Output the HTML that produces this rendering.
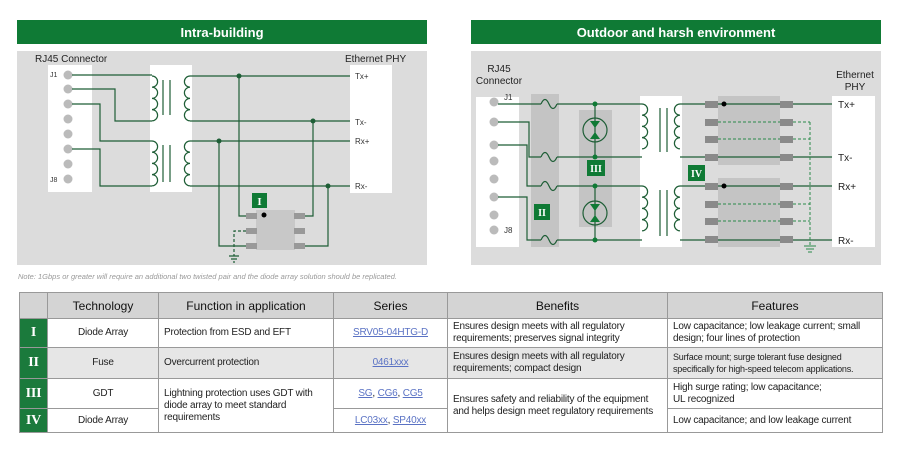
<!DOCTYPE html>
<html><head><meta charset="utf-8"><style>
body{margin:0;background:#fff;width:902px;height:454px;overflow:hidden;font-family:"Liberation Sans",sans-serif}
svg{position:absolute;left:0;top:0}
table{position:absolute;left:19px;top:292px;width:863px;border-collapse:collapse;font-size:10px;color:#222;table-layout:fixed;letter-spacing:-0.2px}
td,th{border:1px solid #999;padding:0 5px;line-height:12px;overflow:hidden}
th{background:#d4d4d4;font-weight:normal;font-size:12px;height:25px;color:#111;letter-spacing:0}
td.n{background:#1b7a3c;color:#fff;font-family:"Liberation Serif",serif;font-weight:bold;font-size:14px;text-align:center;padding:0}
td.c{text-align:center}
a{color:#5a72c4;text-decoration:underline}
.g td{background:#e6e6e6}
.g td.n{background:#1b7a3c}
</style></head><body>
<svg width="902" height="290" viewBox="0 0 902 290" font-family="Liberation Sans, sans-serif">
<defs>
<g id="coilR"><path d="M0 0 a5.6 5.6 0 0 1 0 11.2 a5.6 5.6 0 0 1 0 11.2 a5.6 5.6 0 0 1 0 11.2 a5.6 5.6 0 0 1 0 11.2" fill="none" stroke="#1e5e36" stroke-width="1.2"/></g>
<g id="coilL"><path d="M0 0 a5.6 5.6 0 0 0 0 11.2 a5.6 5.6 0 0 0 0 11.2 a5.6 5.6 0 0 0 0 11.2 a5.6 5.6 0 0 0 0 11.2" fill="none" stroke="#1e5e36" stroke-width="1.2"/></g>
<g id="fuse"><path d="M0 0 q4 -9 8 0 q4 9 8 0" fill="none" stroke="#1e5e36" stroke-width="1.2"/></g>
</defs>
<rect x="17" y="20" width="410" height="24" fill="#0f7a35"/>
<text x="222" y="37" fill="#fff" font-size="13" font-weight="bold" text-anchor="middle">Intra-building</text>
<rect x="17" y="51" width="410" height="214" fill="#dcdcdc"/>
<text x="35" y="62" font-size="10" fill="#222">RJ45 Connector</text>
<text x="345" y="62" font-size="10" fill="#222">Ethernet PHY</text>
<rect x="48" y="65" width="44" height="127" fill="#fff"/>
<rect x="150" y="65" width="42" height="127" fill="#fff"/>
<rect x="350" y="65" width="42" height="128" fill="#fff"/>
<g fill="#bbb"><circle cx="68" cy="75" r="4.5"/><circle cx="68" cy="89" r="4.5"/><circle cx="68" cy="104" r="4.5"/><circle cx="68" cy="119" r="4.5"/><circle cx="68" cy="134" r="4.5"/><circle cx="68" cy="149" r="4.5"/><circle cx="68" cy="164" r="4.5"/><circle cx="68" cy="179" r="4.5"/></g>
<text x="50" y="77" font-size="7" fill="#333">J1</text><text x="50" y="182" font-size="7" fill="#333">J8</text>
<g stroke="#1e5e36" stroke-width="1.2" fill="none">
<path d="M72 75 H152"/><path d="M72 89 H115 V121 H152"/><path d="M72 104 H100 V141 H152"/><path d="M72 149 H100 V186 H152"/>
<path d="M190 76 H350"/><path d="M190 121 H350"/><path d="M190 141 H350"/><path d="M190 186 H350"/>
<path d="M163 80 V115 M170 80 V115 M163 145 V182 M170 145 V182"/>
<path d="M239 76 V216 H256"/><path d="M313 121 V216 H295"/><path d="M219 141 V246 H256"/><path d="M328 186 V246 H295"/>
<path d="M246 231 H234 V256" stroke-dasharray="3 2"/>
<path d="M229 256 H239 M231 259 H237 M233 262 H235"/>
</g>
<use href="#coilR" x="152" y="76"/><use href="#coilL" x="190" y="76"/>
<use href="#coilR" x="152" y="141"/><use href="#coilL" x="190" y="141"/>
<g fill="#1e5e36"><circle cx="239" cy="76" r="2.5"/><circle cx="313" cy="121" r="2.5"/><circle cx="219" cy="141" r="2.5"/><circle cx="328" cy="186" r="2.5"/></g>
<g font-size="8" fill="#333"><text x="355" y="79">Tx+</text><text x="355" y="125">Tx-</text><text x="355" y="144">Rx+</text><text x="355" y="189">Rx-</text></g>
<rect x="256" y="210" width="39" height="40" fill="#c8c8c8"/>
<g fill="#999"><rect x="246" y="213" width="11" height="6"/><rect x="246" y="228" width="11" height="6"/><rect x="246" y="243" width="11" height="6"/><rect x="294" y="213" width="11" height="6"/><rect x="294" y="228" width="11" height="6"/><rect x="294" y="243" width="11" height="6"/></g>
<circle cx="264" cy="215" r="2.5" fill="#000"/>
<rect x="252" y="193" width="15" height="15" fill="#0f7a35"/><text x="259.5" y="205" fill="#fff" font-size="11" font-family="Liberation Serif, serif" font-weight="bold" text-anchor="middle">I</text>
<rect x="471" y="20" width="410" height="24" fill="#0f7a35"/>
<text x="676" y="37" fill="#fff" font-size="13" font-weight="bold" text-anchor="middle">Outdoor and harsh environment</text>
<rect x="471" y="51" width="410" height="214" fill="#dcdcdc"/>
<text x="499" y="72" font-size="10" fill="#222" text-anchor="middle">RJ45</text><text x="499" y="84" font-size="10" fill="#222" text-anchor="middle">Connector</text>
<text x="855" y="78" font-size="10" fill="#222" text-anchor="middle">Ethernet</text><text x="855" y="90" font-size="10" fill="#222" text-anchor="middle">PHY</text>
<rect x="476" y="97" width="43" height="150" fill="#fff"/>
<rect x="531" y="94" width="28" height="153" fill="#c4c4c4"/>
<rect x="579" y="110" width="33" height="117" fill="#c4c4c4"/>
<rect x="640" y="96" width="42" height="151" fill="#fff"/>
<rect x="832" y="96" width="43" height="151" fill="#fff"/>
<rect x="718" y="96" width="62" height="69" fill="#c4c4c4"/>
<rect x="718" y="178" width="62" height="69" fill="#c4c4c4"/>
<g fill="#bbb"><circle cx="494" cy="102" r="4.5"/><circle cx="494" cy="122" r="4.5"/><circle cx="494" cy="145" r="4.5"/><circle cx="494" cy="161" r="4.5"/><circle cx="494" cy="179" r="4.5"/><circle cx="494" cy="197" r="4.5"/><circle cx="494" cy="215" r="4.5"/><circle cx="494" cy="230" r="4.5"/></g>
<text x="504" y="100" font-size="8" fill="#333">J1</text><text x="504" y="233" font-size="8" fill="#333">J8</text>
<g stroke="#1e5e36" stroke-width="1.2" fill="none">
<path d="M498 104 H541 M557 104 H642"/>
<path d="M498 122 H529 V157 H541 M557 157 H642"/>
<path d="M498 145 H527 V186 H541 M557 186 H642"/>
<path d="M498 197 H527 V240 H541 M557 240 H642"/>
<path d="M595 104 V157 M595 186 V240"/>
<circle cx="595" cy="130" r="12"/><circle cx="595" cy="213" r="12"/>
<path d="M660 108 V152 M667 108 V152 M660 190 V236 M667 190 V236"/>
<path d="M680 104 H832 M680 157 H832 M680 186 H832 M680 240 H832"/>
</g>
<use href="#fuse" x="541" y="104"/><use href="#fuse" x="541" y="157"/><use href="#fuse" x="541" y="186"/><use href="#fuse" x="541" y="240"/>
<use href="#coilR" x="642" y="104"/><use href="#coilL" x="680" y="104"/>
<use href="#coilR" x="642" y="186"/><use href="#coilL" x="680" y="186"/>
<g fill="#0f7a35"><path d="M590 121 L600 121 L595 128Z"/><path d="M590 139 L600 139 L595 132Z"/><path d="M590 204 L600 204 L595 211Z"/><path d="M590 222 L600 222 L595 215Z"/>
<circle cx="595" cy="104" r="2.5"/><circle cx="595" cy="157" r="2.5"/><circle cx="595" cy="186" r="2.5"/><circle cx="595" cy="240" r="2.5"/></g>
<g stroke="#2a8a4a" stroke-width="1" fill="none" stroke-dasharray="3 2">
<path d="M718 122 H810 M718 139 H810 M718 204 H810 M718 221 H810 M810 122 V245"/>
</g>
<path d="M804 246 H816 M806 249 H814 M808 252 H812" stroke="#2a8a4a" stroke-width="1"/>
<g fill="#8a8a8a">
<rect x="705" y="101" width="13" height="7"/><rect x="705" y="119" width="13" height="7"/><rect x="705" y="136" width="13" height="7"/><rect x="705" y="154" width="13" height="7"/>
<rect x="780" y="101" width="13" height="7"/><rect x="780" y="119" width="13" height="7"/><rect x="780" y="136" width="13" height="7"/><rect x="780" y="154" width="13" height="7"/>
<rect x="705" y="183" width="13" height="7"/><rect x="705" y="201" width="13" height="7"/><rect x="705" y="218" width="13" height="7"/><rect x="705" y="236" width="13" height="7"/>
<rect x="780" y="183" width="13" height="7"/><rect x="780" y="201" width="13" height="7"/><rect x="780" y="218" width="13" height="7"/><rect x="780" y="236" width="13" height="7"/>
</g>
<circle cx="724" cy="104" r="2.5" fill="#000"/><circle cx="724" cy="186" r="2.5" fill="#000"/>
<g font-size="10" fill="#222"><text x="838" y="108">Tx+</text><text x="838" y="161">Tx-</text><text x="838" y="190">Rx+</text><text x="838" y="244">Rx-</text></g>
<g font-family="Liberation Serif, serif" font-weight="bold" font-size="10" fill="#fff" text-anchor="middle">
<rect x="587" y="160" width="18" height="16" fill="#0f7a35"/><text x="596" y="172">III</text>
<rect x="534" y="204" width="16" height="16" fill="#0f7a35"/><text x="542" y="216">II</text>
<rect x="688" y="165" width="17" height="16" fill="#0f7a35"/><text x="696.5" y="177">IV</text>
</g>
<text x="18" y="279" font-size="7.5" font-style="italic" fill="#999">Note: 1Gbps or greater will require an additional two twisted pair and the diode array solution should be replicated.</text>
</svg>
<table>
<colgroup><col style="width:28px"><col style="width:111px"><col style="width:175px"><col style="width:114px"><col style="width:220px"><col style="width:215px"></colgroup>
<tr><th></th><th>Technology</th><th>Function in application</th><th>Series</th><th>Benefits</th><th>Features</th></tr>
<tr style="height:29px"><td class="n">I</td><td class="c">Diode Array</td><td>Protection from ESD and EFT</td><td class="c"><a>SRV05-04HTG-D</a></td><td>Ensures design meets with all regulatory requirements; preserves signal integrity</td><td>Low capacitance; low leakage current; small design; four lines of protection</td></tr>
<tr class="g" style="height:31px"><td class="n">II</td><td class="c">Fuse</td><td>Overcurrent protection</td><td class="c"><a>0461xxx</a></td><td>Ensures design meets with all regulatory requirements; compact design</td><td style="font-size:9px">Surface mount; surge tolerant fuse designed specifically for high-speed telecom applications.</td></tr>
<tr style="height:30px"><td class="n">III</td><td class="c">GDT</td><td rowspan="2">Lightning protection uses GDT with diode array to meet standard requirements</td><td class="c"><a>SG</a>, <a>CG6</a>, <a>CG5</a></td><td rowspan="2">Ensures safety and reliability of the equipment and helps design meet regulatory requirements</td><td>High surge rating; low capacitance;<br>UL recognized</td></tr>
<tr style="height:24px"><td class="n">IV</td><td class="c">Diode Array</td><td class="c"><a>LC03xx</a>, <a>SP40xx</a></td><td>Low capacitance; and low leakage current</td></tr>
</table>
</body></html>
